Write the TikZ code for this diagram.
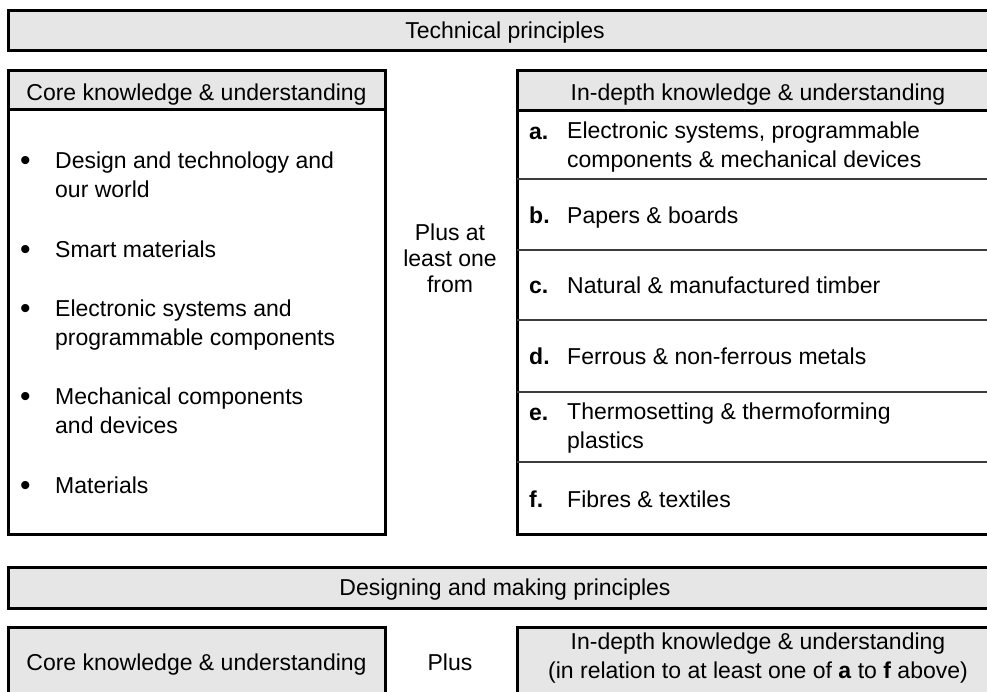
\documentclass[tikz,border=0pt]{standalone}
\usepackage{fontspec}
\setmainfont{Liberation Sans}
\definecolor{headgrey}{HTML}{E6E6E6}
\definecolor{rulegrey}{HTML}{3C3C3C}
\tikzset{
  frame/.style={draw=black, line width=3pt},
  header/.style={frame, fill=headgrey},
  rowline/.style={draw=rulegrey, line width=1.8pt},
  txt/.style={inner sep=0pt, font=\fontsize{23}{28.5}\selectfont},
  item/.style={txt, anchor=base west, align=left},
  dot/.style={item, font=\fontsize{30}{30}\selectfont},
  label/.style={txt, anchor=base, align=center},
}
\begin{document}
\begin{tikzpicture}[x=1pt,y=-1pt]
    \useasboundingbox (0,0) rectangle (987,691);
    \clip (0,0) rectangle (987,691);

    % Technical principles banner
    \draw[header] (8,10) rectangle (1002,50);
    \node[label] (techtitle) at (505,38) {Technical principles};

    % Core knowledge box (left)
    \draw[frame, fill=white] (8,70) rectangle (385,534);
    \draw[header] (8,70) rectangle (385,109);
    \node[label] (corehead) at (196.5,100) {Core knowledge \& understanding};

    % Bullet list (base of a wrapped item = its last line)
    \node[dot] (b1) at (20,170) {•};
    \node[item] (core1) at (55,197) {Design and technology and\\our world};
    \node[dot] (b2) at (20,259) {•};
    \node[item] (core2) at (55,257) {Smart materials};
    \node[dot] (b3) at (20,318) {•};
    \node[item] (core3) at (55,345) {Electronic systems and\\programmable components};
    \node[dot] (b4) at (20,406) {•};
    \node[item] (core4) at (55,433) {Mechanical components\\and devices};
    \node[dot] (b5) at (20,495) {•};
    \node[item] (core5) at (55,493) {Materials};

    % Middle text
    \node[label] (plusfrom) at (450,292) {Plus at\\[-2.5pt]least one\\[-2.5pt]from};

    % In-depth knowledge box (right)
    \draw[frame, fill=white] (517,70) rectangle (1000,534);
    \draw[rowline] (517,179) -- (1000,179);
    \draw[rowline] (517,250) -- (1000,250);
    \draw[rowline] (517,320) -- (1000,320);
    \draw[rowline] (517,392) -- (1000,392);
    \draw[rowline] (517,462) -- (1000,462);
    \draw[header] (517,70) rectangle (1000,110);
    \node[label] (deephead) at (758,100) {In-depth knowledge \& understanding};

    % Lettered options a to f
    \node[item] (la) at (529,139) {\bfseries a.};
    \node[item] (opta) at (567,167) {Electronic systems, programmable\\components \& mechanical devices};
    \node[item] (lb) at (529,223) {\bfseries b.};
    \node[item] (optb) at (567,223) {Papers \& boards};
    \node[item] (lc) at (529,293) {\bfseries c.};
    \node[item] (optc) at (567,293) {Natural \& manufactured timber};
    \node[item] (ld) at (529,364) {\bfseries d.};
    \node[item] (optd) at (567,364) {Ferrous \& non-ferrous metals};
    \node[item] (le) at (529,420) {\bfseries e.};
    \node[item] (opte) at (567,448) {Thermosetting \& thermoforming\\plastics};
    \node[item] (lf) at (529,507) {\bfseries f.};
    \node[item] (optf) at (567,507) {Fibres \& textiles};

    % Designing and making principles banner
    \draw[header] (8,567) rectangle (1002,608);
    \node[label] (designtitle) at (505,595) {Designing and making principles};

    % Bottom row
    \draw[header] (8,627) rectangle (385,720);
    \node[label] (corelow) at (196.5,670) {Core knowledge \& understanding};
    \node[label] (plus) at (450,670) {Plus};
    \draw[header] (517,627) rectangle (1000,720);
    \node[label] (deeplow) at (758,678) {In-depth knowledge \& understanding\\(in relation to at least one of \textbf{a} to \textbf{f} above)};

\end{tikzpicture}
\end{document}
